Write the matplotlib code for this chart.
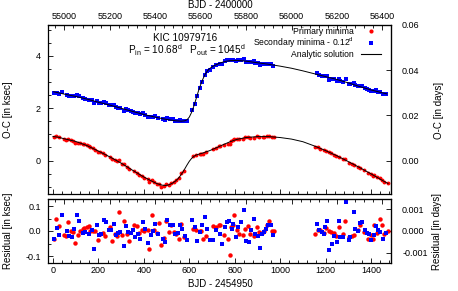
import matplotlib
matplotlib.use("Agg")
import matplotlib.pyplot as plt
from matplotlib.lines import Line2D
from matplotlib.ticker import MultipleLocator, FormatStrFormatter, FixedLocator

plt.rcParams['font.family'] = ['Liberation Sans', 'DejaVu Sans']
plt.rcParams['mathtext.fontset'] = 'custom'
plt.rcParams['mathtext.rm'] = 'Liberation Sans'
plt.rcParams['mathtext.it'] = 'Liberation Sans:italic'

# BJD - 2454950, O-C [ksec], residual [ksec]
red_t = [3, 13, 25, 47, 57, 68, 79, 87, 99, 109, 119, 131, 138, 150, 157, 165, 175, 185,
         197, 209, 219, 229, 251, 260, 275, 282, 292, 303, 314, 325, 336, 358, 370, 380,
         392, 402, 417, 424, 435, 446, 458, 465, 476, 490, 499, 510, 520, 532, 542, 554,
         564, 576, 618, 630, 645, 652, 659, 674, 703, 718, 730, 737, 752, 769, 780, 784,
         791, 799, 810, 821, 835, 847, 857, 868, 887, 898, 909, 923, 931, 942, 953, 963,
         975, 1155, 1166, 1177, 1192, 1202, 1214, 1224, 1235, 1246, 1261, 1276, 1287,
         1305, 1315, 1327, 1342, 1353, 1367, 1386, 1398, 1408, 1415, 1427, 1440, 1447,
         1459, 1474]
red_oc = [0.89, 0.95, 0.90, 0.81, 0.79, 0.83, 0.77, 0.75, 0.68, 0.68, 0.67, 0.64, 0.62, 0.59,
          0.56, 0.51, 0.47, 0.42, 0.33, 0.31, 0.27, 0.21, 0.15, 0.05, 0.01, -0.03, 0.02,
          -0.13, -0.14, -0.25, -0.34, -0.39, -0.46, -0.55, -0.60, -0.65, -0.72, -0.82,
          -0.73, -0.84, -0.90, -0.88, -1.00, -0.99, -0.90, -0.92, -0.86, -0.82, -0.76,
          -0.67, -0.49, -0.41, 0.18, 0.21, 0.25, 0.26, 0.25, 0.31, 0.44, 0.49, 0.54, 0.57,
          0.59, 0.65, 0.62, 0.75, 0.78, 0.84, 0.82, 0.82, 0.84, 0.89, 0.90, 0.88, 0.88,
          0.93, 0.91, 0.91, 0.91, 0.93, 0.95, 0.90, 0.90, 0.53, 0.51, 0.46, 0.40, 0.38,
          0.33, 0.28, 0.23, 0.18, 0.15, 0.06, 0.06, -0.08, -0.13, -0.18, -0.23, -0.27,
          -0.35, -0.47, -0.51, -0.58, -0.57, -0.64, -0.66, -0.73, -0.81, -0.87]
red_res = [-0.032, 0.048, 0.019, -0.015, -0.019, 0.036, -0.001, -0.005, -0.048, -0.015,
           0.001, 0.008, 0.012, 0.015, 0.019, -0.001, 0.001, 0.001, -0.035, -0.012, -0.008,
           -0.021, 0.015, -0.041, -0.012, -0.021, 0.076, -0.017, 0.041, -0.012, -0.039,
           0.025, 0.019, -0.008, 0.005, 0.001, 0.005, -0.071, 0.065, 0.005, -0.008, 0.031,
           -0.055, -0.028, 0.039, -0.005, 0.023, -0.005, -0.012, -0.032, 0.029, -0.025,
           0.009, 0.005, -0.001, 0.001, -0.031, -0.021, 0.019, 0.017, 0.023, 0.023, -0.015,
           -0.032, -0.097, 0.016, 0.025, 0.065, 0.005, -0.012, -0.017, 0.009, 0.019, -0.012,
           -0.021, 0.016, -0.005, -0.005, -0.001, 0.025, 0.041, -0.001, 0.001, -0.011, 0.005,
           0.005, -0.008, 0.012, 0.001, -0.005, -0.008, -0.019, 0.016, -0.012, 0.041, -0.025,
           -0.021, -0.015, 0.005, 0.025, -0.005, -0.031, -0.015, -0.031, 0.023, -0.008,
           0.049, 0.023, -0.012, -0.001]

blue_t = [6, 18, 28, 40, 62, 72, 82, 94, 106, 116, 131, 143, 160, 170, 181, 192, 201, 212,
          223, 234, 248, 256, 267, 278, 288, 297, 311, 322, 329, 344, 354, 363, 373, 385,
          398, 407, 417, 432, 439, 449, 461, 483, 493, 502, 517, 527, 539, 549, 561, 568,
          579, 590, 612, 623, 634, 645, 655, 667, 678, 692, 703, 718, 733, 743, 758, 766,
          777, 787, 794, 806, 816, 828, 840, 850, 862, 872, 884, 891, 901, 913, 920, 931,
          938, 948, 960, 970, 1161, 1170, 1183, 1192, 1199, 1207, 1217, 1229, 1239, 1249,
          1258, 1265, 1276, 1290, 1301, 1309, 1324, 1331, 1342, 1353, 1359, 1375, 1381,
          1393, 1400, 1411, 1420, 1430, 1440, 1452, 1464]
blue_oc = [2.59, 2.60, 2.55, 2.61, 2.51, 2.47, 2.45, 2.47, 2.51, 2.46, 2.38, 2.36, 2.32,
           2.30, 2.21, 2.27, 2.21, 2.19, 2.23, 2.20, 2.12, 2.11, 2.11, 2.03, 2.02, 2.01,
           1.91, 1.97, 1.93, 1.89, 1.87, 1.82, 1.81, 1.77, 1.80, 1.76, 1.68, 1.68, 1.68,
           1.69, 1.63, 1.57, 1.54, 1.62, 1.58, 1.57, 1.51, 1.51, 1.54, 1.52, 1.51, 1.52,
           1.95, 2.17, 2.47, 2.77, 3.01, 3.27, 3.42, 3.48, 3.56, 3.66, 3.70, 3.69, 3.80,
           3.84, 3.85, 3.83, 3.85, 3.80, 3.85, 3.86, 3.89, 3.76, 3.75, 3.78, 3.81, 3.74,
           3.72, 3.65, 3.70, 3.70, 3.70, 3.70, 3.69, 3.63, 3.33, 3.28, 3.25, 3.22, 3.23,
           3.23, 3.09, 3.10, 3.10, 3.06, 3.12, 3.04, 3.01, 3.12, 2.93, 2.92, 2.98, 2.89,
           2.85, 2.85, 2.85, 2.76, 2.74, 2.71, 2.66, 2.66, 2.68, 2.63, 2.61, 2.56, 2.55]
blue_res = [-0.032, 0.012, -0.015, 0.063, 0.001, -0.019, -0.025, 0.008, 0.065, 0.039,
            -0.008, -0.005, -0.012, 0.003, -0.072, 0.023, -0.015, -0.012, 0.045, 0.036,
            0.003, 0.003, 0.028, -0.015, -0.008, -0.004, -0.061, 0.019, -0.005, -0.009,
            0.005, -0.025, -0.012, -0.032, 0.036, 0.008, -0.049, -0.015, -0.001, 0.028,
            -0.012, -0.031, -0.044, 0.045, 0.025, 0.025, -0.012, -0.008, 0.025, 0.009,
            -0.021, -0.035, 0.043, 0.015, -0.041, -0.005, 0.023, 0.055, 0.008, -0.035,
            -0.035, 0.003, -0.012, -0.052, 0.016, 0.035, 0.039, 0.008, 0.029, -0.025, 0.015,
            0.035, 0.083, -0.041, -0.044, 0.003, 0.049, -0.012, -0.021, -0.068, -0.012,
            -0.004, 0.007, 0.025, 0.023, -0.017, 0.028, 0.005, -0.005, -0.011, 0.015, 0.041,
            -0.075, -0.052, -0.021, -0.044, 0.039, -0.024, -0.025, 0.116, -0.035, -0.024,
            0.075, 0.008, 0.001, 0.031, 0.036, 0.003, -0.008, -0.011, -0.037, -0.017, 0.019,
            0.005, -0.005, -0.031, -0.008]

# analytic solution
fit_t_red = [0, 25, 50, 100, 150, 200, 250, 300, 350, 400, 440, 460, 480, 495, 510, 525,
             540, 555, 570, 580, 590, 600, 610, 620, 630, 645, 660, 690, 720, 750, 780, 810,
             850, 900, 950, 1000, 1050, 1100, 1150, 1200, 1250, 1300, 1350, 1400, 1450, 1475]
fit_red = [0.92, 0.89, 0.83, 0.73, 0.57, 0.36, 0.14, -0.10, -0.37, -0.63, -0.81, -0.89,
           -0.94, -0.955, -0.93, -0.87, -0.78, -0.65, -0.46, -0.32, -0.17, -0.03, 0.08,
           0.16, 0.21, 0.25, 0.29, 0.38, 0.49, 0.61, 0.72, 0.81, 0.88, 0.915, 0.915, 0.88,
           0.82, 0.72, 0.56, 0.38, 0.18, -0.04, -0.27, -0.51, -0.76, -0.88]
fit_t_blue = [3, 50, 100, 150, 200, 250, 300, 350, 400, 450, 500, 540, 565, 580, 590, 600,
              610, 620, 630, 640, 650, 660, 670, 680, 690, 700, 710, 720, 735, 750, 765,
              780, 810, 850, 900, 950, 1000, 1050, 1100, 1150, 1200, 1250, 1300, 1350,
              1400, 1450, 1470]
fit_blue = [2.63, 2.54, 2.45, 2.35, 2.23, 2.12, 2.00, 1.88, 1.76, 1.66, 1.57, 1.52, 1.505,
            1.52, 1.56, 1.66, 1.84, 2.08, 2.36, 2.65, 2.90, 3.12, 3.30, 3.43, 3.52, 3.58,
            3.63, 3.67, 3.73, 3.77, 3.80, 3.82, 3.83, 3.80, 3.74, 3.68, 3.61, 3.53, 3.43,
            3.32, 3.21, 3.10, 2.97, 2.83, 2.70, 2.59, 2.55]

KSEC_PER_DAY = 86.4
OFFSET = 54950

W, H = 458, 291
fig = plt.figure(figsize=(W / 100, H / 100), dpi=100)
L, R = 48, 391
ax = fig.add_axes([L / W, 1 - 194 / H, (R - L) / W, (194 - 25) / H])
rx = fig.add_axes([L / W, 1 - 263 / H, (R - L) / W, (263 - 199) / H])

red = '#ff0000'
blue = '#0000ff'

ax.plot(red_t, red_oc, 'o', color=red, ms=2.8, mew=0, zorder=2)
ax.plot(blue_t, blue_oc, 's', color=blue, ms=2.2, mew=0, zorder=2)
ax.plot(fit_t_red, fit_red, color='black', lw=0.7, zorder=3)
ax.plot(fit_t_blue, fit_blue, color='black', lw=0.7, zorder=3)

rx.plot(red_t, red_res, 'o', color=red, ms=3.2, mew=0)
rx.plot(blue_t, blue_res, 's', color=blue, ms=2.4, mew=0)

xlim = (-22, 1488)
for a in (ax, rx):
    a.set_xlim(*xlim)
    a.xaxis.set_major_locator(MultipleLocator(200))
    a.xaxis.set_minor_locator(MultipleLocator(40))
    a.tick_params(which='both', direction='in', labelsize=6.5, width=0.6)
    a.tick_params(which='major', length=3.5)
    a.tick_params(which='minor', length=2)
    for s in a.spines.values():
        s.set_linewidth(0.9)

ax.set_ylim(-1.28, 0.06 * KSEC_PER_DAY)
ax.yaxis.set_major_locator(FixedLocator([0, 2, 4]))
ax.yaxis.set_minor_locator(MultipleLocator(0.5))
ax.tick_params(axis='x', labelbottom=False)
ax.tick_params(axis='y', pad=5)

rx.set_ylim(-0.128, 0.128)
rx.yaxis.set_major_locator(FixedLocator([-0.1, 0.0, 0.1]))
rx.yaxis.set_major_formatter(FormatStrFormatter('%.1f'))
rx.yaxis.set_minor_locator(MultipleLocator(0.05))
rx.tick_params(axis='x', pad=2.5)
rx.tick_params(axis='y', pad=5)

to_days = (lambda k: k / KSEC_PER_DAY, lambda d: d * KSEC_PER_DAY)
to_bjd = (lambda t: t + OFFSET, lambda b: b - OFFSET)
top_ticks = list(range(55000, 56401, 200))

sy = ax.secondary_yaxis('right', functions=to_days)
sy.set_yticks([0.0, 0.02, 0.04, 0.06])
sy.yaxis.set_major_formatter(FormatStrFormatter('%.2f'))
sy.tick_params(direction='in', labelsize=6.5, length=3.5, width=0.6, pad=8)

sry = rx.secondary_yaxis('right', functions=to_days)
sry.set_yticks([-0.001, 0.0, 0.001])
sry.yaxis.set_major_formatter(FormatStrFormatter('%.3f'))
sry.tick_params(direction='in', labelsize=6.5, length=3.5, width=0.6, pad=8)

sx = ax.secondary_xaxis('top', functions=to_bjd)
sx.set_xticks(top_ticks)
sx.xaxis.set_major_formatter(FormatStrFormatter('%d'))
sx.xaxis.set_minor_locator(MultipleLocator(40))
sx.tick_params(which='both', direction='in', labelsize=6.5, width=0.6, pad=3)
sx.tick_params(which='major', length=3.5)
sx.tick_params(which='minor', length=2)

srx = rx.secondary_xaxis('top', functions=to_bjd)
srx.set_xticks(top_ticks)
srx.xaxis.set_minor_locator(MultipleLocator(40))
srx.tick_params(which='both', direction='in', labeltop=False, width=0.6)
srx.tick_params(which='major', length=3.5)
srx.tick_params(which='minor', length=2)

ax.tick_params(top=False, right=False)
rx.tick_params(top=False, right=False)

# axis labels
fig.text(220 / W, 1 - 5 / H, 'BJD - 2400000', ha='center', va='center', fontsize=7)
fig.text(220 / W, 1 - 284 / H, 'BJD - 2454950', ha='center', va='center', fontsize=7)
fig.text(8 / W, 1 - 110 / H, 'O-C [in ksec]', rotation=90, ha='center', va='center', fontsize=7)
fig.text(8 / W, 1 - 231 / H, 'Residual [in ksec]', rotation=90, ha='center', va='center', fontsize=7)
fig.text(439 / W, 1 - 110 / H, 'O-C [in days]', rotation=90, ha='center', va='center', fontsize=7)
fig.text(437 / W, 1 - 231 / H, 'Residual [in days]', rotation=90, ha='center', va='center', fontsize=7)

ax.text(0.399, 0.925, 'KIC 10979716', transform=ax.transAxes, ha='center', va='center',
        fontsize=7.2)
ax.text(0.404, 0.85, r'P$_{\rm in}$ = 10.68$^{\rm d}$   P$_{\rm out}$ = 1045$^{\rm d}$',
        transform=ax.transAxes, ha='center', va='center', fontsize=7.2)

handles = [Line2D([], [], ls='none', marker='o', color=red, ms=3, mew=0),
           Line2D([], [], ls='none', marker='s', color=blue, ms=2.4, mew=0),
           Line2D([], [], color='black', lw=0.8)]
labels = ['Primary minima', r'Secondary minima - 0.12$^{\rm d}$', 'Analytic solution']
leg = ax.legend(handles, labels, loc='upper right', bbox_to_anchor=(0.972, 0.99),
                frameon=False, fontsize=6.2, markerfirst=False, borderaxespad=0,
                borderpad=0, handlelength=2.4, handletextpad=0.8, labelspacing=0.0)
leg._legend_box.align = 'right'

plt.savefig('out.png', dpi=100)
plt.close()
